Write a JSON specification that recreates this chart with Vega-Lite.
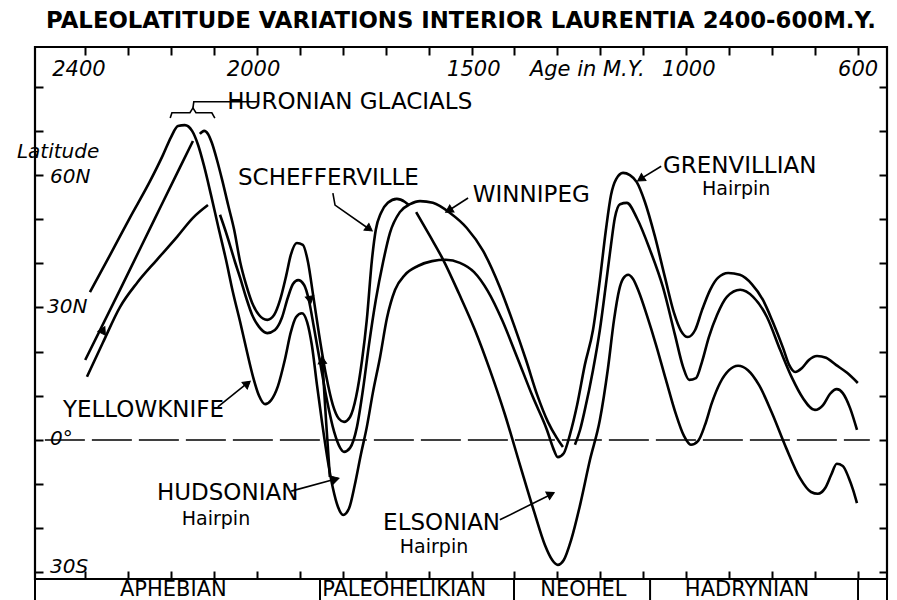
{
  "$schema": "https://vega.github.io/schema/vega-lite/v6.json",
  "width": 852,
  "height": 532,
  "autosize": {"type": "none"},
  "padding": {"left": 35, "top": 47, "right": 10, "bottom": 21},
  "background": "white",
  "title": {"text": "PALEOLATITUDE VARIATIONS INTERIOR LAURENTIA 2400-600M.Y.", "font": "DejaVu Sans", "fontSize": 22.8, "fontWeight": "bold", "color": "black", "anchor": "middle", "baseline": "alphabetic", "offset": -5},
  "config": {"view": {"stroke": "black", "strokeWidth": 2.2}},
  "datasets": {
    "curves": [
      {"curve":"a","age":2389,"lat":33.5},{"curve":"a","age":2342,"lat":41.9},{"curve":"a","age":2296,"lat":50.3},{"curve":"a","age":2249,"lat":58.6},{"curve":"a","age":2219,"lat":64.5},{"curve":"a","age":2200,"lat":68.6},{"curve":"a","age":2184,"lat":71.1},{"curve":"a","age":2168,"lat":71.3},{"curve":"a","age":2151,"lat":70.0},{"curve":"a","age":2137,"lat":66.8},{"curve":"a","age":2123,"lat":62.0},{"curve":"a","age":2107,"lat":55.5},{"curve":"a","age":2091,"lat":48.7},{"curve":"a","age":2072,"lat":40.8},{"curve":"a","age":2056,"lat":33.5},{"curve":"a","age":2039,"lat":26.7},{"curve":"a","age":2023,"lat":19.9},{"curve":"a","age":2009,"lat":14.3},{"curve":"a","age":1995,"lat":10.0},{"curve":"a","age":1981,"lat":8.1},{"curve":"a","age":1967,"lat":9.0},{"curve":"a","age":1951,"lat":12.2},{"curve":"a","age":1935,"lat":18.1},{"curve":"a","age":1921,"lat":24.4},{"curve":"a","age":1909,"lat":27.8},{"curve":"a","age":1895,"lat":28.7},{"curve":"a","age":1883,"lat":26.7},{"curve":"a","age":1872,"lat":21.5},{"curve":"a","age":1860,"lat":12.4},{"curve":"a","age":1848,"lat":3.8},{"curve":"a","age":1834,"lat":-5.2},{"curve":"a","age":1823,"lat":-10.9},{"curve":"a","age":1811,"lat":-15.2},{"curve":"a","age":1799,"lat":-17.0},{"curve":"a","age":1785,"lat":-15.4},{"curve":"a","age":1772,"lat":-10.2},{"curve":"a","age":1758,"lat":-3.4},{"curve":"a","age":1744,"lat":2.9},{"curve":"a","age":1730,"lat":10.6},{"curve":"a","age":1713,"lat":18.8},{"curve":"a","age":1697,"lat":27.6},{"curve":"a","age":1678,"lat":34.0},{"curve":"a","age":1655,"lat":37.4},{"curve":"a","age":1625,"lat":39.4},{"curve":"a","age":1592,"lat":40.5},{"curve":"a","age":1560,"lat":40.8},{"curve":"a","age":1527,"lat":40.1},{"curve":"a","age":1494,"lat":38.0},{"curve":"a","age":1462,"lat":33.7},{"curve":"a","age":1429,"lat":27.2},{"curve":"a","age":1394,"lat":18.8},{"curve":"a","age":1357,"lat":9.7},{"curve":"a","age":1324,"lat":2.2},{"curve":"a","age":1310,"lat":-1.8},{"curve":"a","age":1299,"lat":-3.9},{"curve":"a","age":1285,"lat":-3.0},{"curve":"a","age":1271,"lat":1.1},{"curve":"a","age":1254,"lat":7.9},{"curve":"a","age":1236,"lat":17.0},{"curve":"a","age":1217,"lat":24.9},{"curve":"a","age":1201,"lat":36.2},{"curve":"a","age":1187,"lat":47.5},{"curve":"a","age":1175,"lat":55.5},{"curve":"a","age":1163,"lat":59.1},{"curve":"a","age":1147,"lat":60.5},{"curve":"a","age":1131,"lat":60.0},{"curve":"a","age":1115,"lat":58.4},{"curve":"a","age":1096,"lat":53.9},{"curve":"a","age":1073,"lat":46.2},{"curve":"a","age":1049,"lat":36.7},{"curve":"a","age":1028,"lat":28.7},{"curve":"a","age":1012,"lat":24.7},{"curve":"a","age":996,"lat":23.3},{"curve":"a","age":979,"lat":24.9},{"curve":"a","age":963,"lat":29.4},{"curve":"a","age":944,"lat":34.0},{"curve":"a","age":926,"lat":36.7},{"curve":"a","age":902,"lat":37.8},{"curve":"a","age":875,"lat":37.4},{"curve":"a","age":847,"lat":35.3},{"curve":"a","age":821,"lat":31.7},{"curve":"a","age":798,"lat":26.7},{"curve":"a","age":774,"lat":20.8},{"curve":"a","age":760,"lat":17.0},{"curve":"a","age":746,"lat":15.4},{"curve":"a","age":730,"lat":16.3},{"curve":"a","age":714,"lat":18.1},{"curve":"a","age":695,"lat":19.0},{"curve":"a","age":674,"lat":18.6},{"curve":"a","age":651,"lat":17.0},{"curve":"a","age":625,"lat":15.2},{"curve":"a","age":600,"lat":12.9},
      {"curve":"b1","age":2400,"lat":18.1},{"curve":"b1","age":2319,"lat":34.0},{"curve":"b1","age":2237,"lat":50.3},{"curve":"b1","age":2179,"lat":61.8},{"curve":"b1","age":2149,"lat":67.7},
      {"curve":"b2","age":2133,"lat":69.3},{"curve":"b2","age":2123,"lat":70.0},{"curve":"b2","age":2114,"lat":69.3},{"curve":"b2","age":2105,"lat":67.3},{"curve":"b2","age":2093,"lat":63.4},{"curve":"b2","age":2081,"lat":58.9},{"curve":"b2","age":2067,"lat":53.2},{"curve":"b2","age":2053,"lat":47.6},{"curve":"b2","age":2039,"lat":40.3},{"curve":"b2","age":2025,"lat":35.1},{"curve":"b2","age":2011,"lat":31.0},{"curve":"b2","age":1995,"lat":28.3},{"curve":"b2","age":1976,"lat":27.2},{"curve":"b2","age":1960,"lat":28.3},{"curve":"b2","age":1946,"lat":31.7},{"curve":"b2","age":1932,"lat":37.1},{"curve":"b2","age":1921,"lat":41.9},{"curve":"b2","age":1907,"lat":44.6},{"curve":"b2","age":1893,"lat":44.2},{"curve":"b2","age":1881,"lat":40.3},{"curve":"b2","age":1869,"lat":32.8},{"curve":"b2","age":1855,"lat":23.8},{"curve":"b2","age":1839,"lat":14.7},{"curve":"b2","age":1823,"lat":7.9},{"curve":"b2","age":1809,"lat":4.8},{"curve":"b2","age":1797,"lat":4.1},{"curve":"b2","age":1783,"lat":5.2},{"curve":"b2","age":1769,"lat":9.7},{"curve":"b2","age":1755,"lat":18.1},{"curve":"b2","age":1744,"lat":27.2},{"curve":"b2","age":1732,"lat":40.8},{"curve":"b2","age":1723,"lat":47.6},{"curve":"b2","age":1711,"lat":51.4},{"curve":"b2","age":1695,"lat":53.7},{"curve":"b2","age":1674,"lat":54.6},{"curve":"b2","age":1655,"lat":53.9},{"curve":"b2","age":1646,"lat":53.2},
      {"curve":"b3","age":1629,"lat":51.6},{"curve":"b3","age":1597,"lat":46.2},{"curve":"b3","age":1566,"lat":40.8},{"curve":"b3","age":1529,"lat":33.1},{"curve":"b3","age":1492,"lat":24.9},{"curve":"b3","age":1457,"lat":15.8},{"curve":"b3","age":1422,"lat":5.7},{"curve":"b3","age":1387,"lat":-5.7},{"curve":"b3","age":1354,"lat":-16.3},{"curve":"b3","age":1329,"lat":-23.8},{"curve":"b3","age":1312,"lat":-27.2},{"curve":"b3","age":1299,"lat":-28.3},{"curve":"b3","age":1285,"lat":-27.2},{"curve":"b3","age":1268,"lat":-22.7},{"curve":"b3","age":1247,"lat":-14.7},{"curve":"b3","age":1224,"lat":-4.5},{"curve":"b3","age":1201,"lat":4.5},{"curve":"b3","age":1182,"lat":16.3},{"curve":"b3","age":1168,"lat":27.2},{"curve":"b3","age":1156,"lat":34.0},{"curve":"b3","age":1147,"lat":36.5},{"curve":"b3","age":1135,"lat":37.4},{"curve":"b3","age":1124,"lat":36.5},{"curve":"b3","age":1110,"lat":33.5},{"curve":"b3","age":1091,"lat":28.1},{"curve":"b3","age":1070,"lat":21.5},{"curve":"b3","age":1047,"lat":13.6},{"curve":"b3","age":1024,"lat":5.9},{"curve":"b3","age":1005,"lat":0.9},{"curve":"b3","age":989,"lat":-1.1},{"curve":"b3","age":972,"lat":-0.2},{"curve":"b3","age":956,"lat":3.4},{"curve":"b3","age":940,"lat":8.4},{"curve":"b3","age":921,"lat":12.9},{"curve":"b3","age":900,"lat":15.8},{"curve":"b3","age":879,"lat":16.8},{"curve":"b3","age":856,"lat":15.8},{"curve":"b3","age":830,"lat":12.4},{"curve":"b3","age":800,"lat":6.1},{"curve":"b3","age":767,"lat":-1.8},{"curve":"b3","age":735,"lat":-8.6},{"curve":"b3","age":709,"lat":-11.8},{"curve":"b3","age":693,"lat":-12.2},{"curve":"b3","age":676,"lat":-10.9},{"curve":"b3","age":662,"lat":-7.9},{"curve":"b3","age":649,"lat":-5.4},{"curve":"b3","age":635,"lat":-5.9},{"curve":"b3","age":621,"lat":-8.6},{"curve":"b3","age":611,"lat":-11.3},{"curve":"b3","age":602,"lat":-14.3},
      {"curve":"c1","age":2396,"lat":14.3},{"curve":"c1","age":2359,"lat":22.0},{"curve":"c1","age":2319,"lat":30.1},{"curve":"c1","age":2279,"lat":35.6},{"curve":"c1","age":2233,"lat":40.8},{"curve":"c1","age":2186,"lat":46.0},{"curve":"c1","age":2149,"lat":50.3},{"curve":"c1","age":2114,"lat":53.2},
      {"curve":"c2","age":2086,"lat":51.0},{"curve":"c2","age":2074,"lat":47.6},{"curve":"c2","age":2063,"lat":44.2},{"curve":"c2","age":2051,"lat":40.3},{"curve":"c2","age":2039,"lat":36.7},{"curve":"c2","age":2025,"lat":32.2},{"curve":"c2","age":2011,"lat":28.3},{"curve":"c2","age":1995,"lat":25.6},{"curve":"c2","age":1976,"lat":24.2},{"curve":"c2","age":1958,"lat":24.9},{"curve":"c2","age":1942,"lat":27.6},{"curve":"c2","age":1928,"lat":32.2},{"curve":"c2","age":1916,"lat":35.3},{"curve":"c2","age":1904,"lat":36.2},{"curve":"c2","age":1890,"lat":35.1},{"curve":"c2","age":1879,"lat":31.7},{"curve":"c2","age":1867,"lat":25.4},{"curve":"c2","age":1853,"lat":17.7},{"curve":"c2","age":1837,"lat":9.1},{"curve":"c2","age":1820,"lat":1.8},{"curve":"c2","age":1806,"lat":-1.8},{"curve":"c2","age":1797,"lat":-2.7},{"curve":"c2","age":1783,"lat":-1.8},{"curve":"c2","age":1767,"lat":2.9},{"curve":"c2","age":1753,"lat":11.3},{"curve":"c2","age":1739,"lat":21.5},{"curve":"c2","age":1723,"lat":31.7},{"curve":"c2","age":1706,"lat":40.3},{"curve":"c2","age":1690,"lat":46.9},{"curve":"c2","age":1667,"lat":51.6},{"curve":"c2","age":1643,"lat":53.4},{"curve":"c2","age":1620,"lat":54.1},{"curve":"c2","age":1590,"lat":53.7},{"curve":"c2","age":1550,"lat":51.4},{"curve":"c2","age":1511,"lat":48.0},{"curve":"c2","age":1473,"lat":42.8},{"curve":"c2","age":1434,"lat":34.6},{"curve":"c2","age":1401,"lat":26.0},{"curve":"c2","age":1373,"lat":18.1},{"curve":"c2","age":1347,"lat":10.2},{"curve":"c2","age":1322,"lat":4.1},{"curve":"c2","age":1301,"lat":0.4},{"curve":"c2","age":1287,"lat":-1.6},
      {"curve":"c3","age":1259,"lat":-1.1},{"curve":"c3","age":1247,"lat":2.3},{"curve":"c3","age":1236,"lat":6.8},{"curve":"c3","age":1217,"lat":15.8},{"curve":"c3","age":1201,"lat":24.9},{"curve":"c3","age":1187,"lat":35.1},{"curve":"c3","age":1175,"lat":44.2},{"curve":"c3","age":1166,"lat":50.3},{"curve":"c3","age":1154,"lat":53.4},{"curve":"c3","age":1138,"lat":53.7},{"curve":"c3","age":1114,"lat":50.1},{"curve":"c3","age":1084,"lat":43.0},{"curve":"c3","age":1054,"lat":34.6},{"curve":"c3","age":1026,"lat":23.8},{"curve":"c3","age":1007,"lat":16.5},{"curve":"c3","age":993,"lat":13.6},{"curve":"c3","age":977,"lat":14.0},{"curve":"c3","age":963,"lat":17.7},{"curve":"c3","age":947,"lat":23.3},{"curve":"c3","age":928,"lat":28.3},{"curve":"c3","age":905,"lat":32.4},{"curve":"c3","age":874,"lat":34.0},{"curve":"c3","age":844,"lat":32.4},{"curve":"c3","age":812,"lat":27.9},{"curve":"c3","age":781,"lat":20.4},{"curve":"c3","age":753,"lat":14.0},{"curve":"c3","age":728,"lat":9.5},{"curve":"c3","age":700,"lat":6.8},{"curve":"c3","age":681,"lat":7.9},{"curve":"c3","age":665,"lat":10.4},{"curve":"c3","age":649,"lat":11.5},{"curve":"c3","age":635,"lat":10.6},{"curve":"c3","age":618,"lat":7.2},{"curve":"c3","age":602,"lat":2.3},
      {"curve":"x1","age":1848,"lat":18.6},{"curve":"x1","age":1839,"lat":4.5},{"curve":"x1","age":1830,"lat":-8.4}
    ],
    "ann": [
      {"id":"brace","age":2202,"lat":72.9},{"id":"brace","age":2198,"lat":74.1},{"id":"brace","age":2156,"lat":74.1},{"id":"brace","age":2149,"lat":75.2},{"id":"brace","age":2142,"lat":74.1},{"id":"brace","age":2105,"lat":74.1},{"id":"brace","age":2098,"lat":72.9},
      {"id":"leader","age":2149,"lat":75.2},{"id":"leader","age":2147,"lat":76.6},{"id":"leader","age":2000,"lat":76.6},
      {"id":"sch","age":1823,"lat":55.9},{"id":"sch","age":1818,"lat":53.2},{"id":"sch","age":1736,"lat":47.6},
      {"id":"win","age":1508,"lat":54.8},{"id":"win","age":1556,"lat":51.8},
      {"id":"gren","age":1058,"lat":62.0},{"id":"gren","age":1110,"lat":58.9},
      {"id":"yk","age":2091,"lat":7.5},{"id":"yk","age":2018,"lat":13.2},
      {"id":"hud","age":1920,"lat":-11.6},{"id":"hud","age":1810,"lat":-8.7},
      {"id":"els","age":1434,"lat":-18.1},{"id":"els","age":1308,"lat":-12.0}
    ],
    "heads": [
      {"age":1738,"lat":47.8,"heading":126},{"age":1553,"lat":52.0,"heading":239},{"age":1106,"lat":59.1,"heading":237},{"age":2022,"lat":12.8,"heading":51},{"age":1817,"lat":-8.9,"heading":75},{"age":1315,"lat":-12.3,"heading":63},{"age":2358,"lat":24.9,"heading":26},{"age":1876,"lat":31.7,"heading":170},{"age":1848,"lat":18.1,"heading":356}
    ],
    "caps": [
      {"t":"HURONIAN GLACIALS","age":2069,"lat":75.0},{"t":"SCHEFFERVILLE","age":2044,"lat":57.7},{"t":"WINNIPEG","age":1497,"lat":53.9},{"t":"GRENVILLIAN","age":1054,"lat":60.5},{"t":"YELLOWKNIFE","age":2452,"lat":5.2},{"t":"HUDSONIAN","age":2233,"lat":-13.6},{"t":"ELSONIAN","age":1706,"lat":-20.4}
    ],
    "hairpin": [
      {"t":"Hairpin","age":963,"lat":55.5},{"t":"Hairpin","age":2175,"lat":-19.3},{"t":"Hairpin","age":1667,"lat":-25.6}
    ],
    "agelabels": [
      {"t":"2400","age":2477,"lat":82.4},{"t":"2000","age":2070,"lat":82.4},{"t":"1500","age":1557,"lat":82.4},{"t":"Age in M.Y.","age":1364,"lat":82.4},{"t":"1000","age":1056,"lat":82.4},{"t":"600","age":646,"lat":82.4}
    ],
    "latlabels": [
      {"t":"Latitude","age":2559,"lat":63.9},{"t":"60N","age":2482,"lat":58.2},{"t":"30N","age":2489,"lat":28.75},{"t":"0°","age":2482,"lat":-1.1},{"t":"30S","age":2482,"lat":-30.2}
    ],
    "eras": [
      {"t":"APHEBIAN","age":2319,"lat":-35.45},{"t":"PALEOHELIKIAN","age":1848,"lat":-35.45},{"t":"NEOHEL","age":1340,"lat":-35.45},{"t":"HADRYNIAN","age":1003,"lat":-35.45}
    ],
    "dividers": [
      {"age":2517,"lat":-31.5,"lat2":-37},{"age":1853,"lat":-31.5,"lat2":-37},{"age":1401,"lat":-31.5,"lat2":-37},{"age":1084,"lat":-31.5,"lat2":-37},{"age":599.5,"lat":-31.5,"lat2":-37},{"age":532,"lat":-31.5,"lat2":-37}
    ],
    "zero": [{"age":2494,"age2":572,"lat":0}]
  },
  "encoding": {
    "x": {"field": "age", "type": "quantitative", "scale": {"domain": [532, 2517], "reverse": true, "nice": false, "zero": false}, "axis": null},
    "y": {"field": "lat", "type": "quantitative", "scale": {"domain": [-31.5, 89], "nice": false, "zero": false}, "axis": null}
  },
  "layer": [
    {
      "data": {"name": "zero"},
      "mark": {"type": "rule", "color": "black", "strokeWidth": 1.6, "strokeDash": [40, 7]},
      "encoding": {
        "x": {"field": "age", "type": "quantitative", "scale": {"domain": [532, 2517], "reverse": true, "nice": false, "zero": false},
              "axis": {"orient": "bottom", "values": [600,700,800,900,1000,1100,1200,1300,1400,1500,1600,1700,1800,1900,2000,2100,2200,2300,2400], "labels": false, "title": null, "domain": false, "grid": false, "tickSize": -8, "tickWidth": 2, "tickColor": "black"}},
        "x2": {"field": "age2"},
        "y": {"field": "lat", "type": "quantitative", "scale": {"domain": [-31.5, 89], "nice": false, "zero": false},
              "axis": {"orient": "right", "values": [-30,-20,-10,0,10,20,30,40,50,60,70,80], "labels": false, "title": null, "domain": false, "grid": false, "tickSize": -8, "tickWidth": 2, "tickColor": "black"}}
      }
    },
    {
      "data": {"name": "curves"},
      "mark": {"type": "line", "color": "black", "strokeWidth": 2.6, "interpolate": "monotone"},
      "encoding": {
        "x": {"field": "age", "type": "quantitative", "scale": {"domain": [532, 2517], "reverse": true, "nice": false, "zero": false},
              "axis": {"orient": "top", "values": [600,700,800,900,1000,1100,1200,1300,1400,1500,1600,1700,1800,1900,2000,2100,2200,2300,2400], "labels": false, "title": null, "domain": false, "grid": false, "tickSize": -8, "tickWidth": 2, "tickColor": "black"}},
        "y": {"field": "lat", "type": "quantitative", "scale": {"domain": [-31.5, 89], "nice": false, "zero": false},
              "axis": {"orient": "left", "values": [-30,-20,-10,0,10,20,30,40,50,60,70,80], "labels": false, "title": null, "domain": false, "grid": false, "tickSize": -8, "tickWidth": 2, "tickColor": "black"}},
        "detail": {"field": "curve", "type": "nominal"}
      }
    },
    {
      "data": {"name": "ann"},
      "mark": {"type": "line", "color": "black", "strokeWidth": 1.6},
      "encoding": {"detail": {"field": "id", "type": "nominal"}}
    },
    {
      "data": {"name": "heads"},
      "mark": {"type": "point", "shape": "triangle-up", "filled": true, "fill": "black", "stroke": "black", "strokeWidth": 1, "size": 70, "opacity": 1, "fillOpacity": 1},
      "encoding": {"angle": {"field": "heading", "type": "quantitative", "scale": {"domain": [0, 360], "range": [0, 360]}}}
    },
    {
      "data": {"name": "caps"},
      "mark": {"type": "text", "font": "DejaVu Sans", "fontSize": 23, "align": "left", "baseline": "alphabetic", "color": "black"},
      "encoding": {"text": {"field": "t"}}
    },
    {
      "data": {"name": "hairpin"},
      "mark": {"type": "text", "font": "DejaVu Sans", "fontSize": 19, "align": "left", "baseline": "alphabetic", "color": "black"},
      "encoding": {"text": {"field": "t"}}
    },
    {
      "data": {"name": "agelabels"},
      "mark": {"type": "text", "font": "DejaVu Sans", "fontSize": 21, "fontStyle": "italic", "align": "left", "baseline": "alphabetic", "color": "black"},
      "encoding": {"text": {"field": "t"}}
    },
    {
      "data": {"name": "latlabels"},
      "mark": {"type": "text", "font": "DejaVu Sans", "fontSize": 20, "fontStyle": "italic", "align": "left", "baseline": "alphabetic", "color": "black"},
      "encoding": {"text": {"field": "t"}}
    },
    {
      "data": {"name": "eras"},
      "mark": {"type": "text", "font": "DejaVu Sans", "fontSize": 21, "align": "left", "baseline": "alphabetic", "color": "black"},
      "encoding": {"text": {"field": "t"}}
    },
    {
      "data": {"name": "dividers"},
      "mark": {"type": "rule", "color": "black", "strokeWidth": 2},
      "encoding": {"y2": {"field": "lat2"}}
    }
  ],
  "resolve": {"axis": {"x": "independent", "y": "independent"}}
}
